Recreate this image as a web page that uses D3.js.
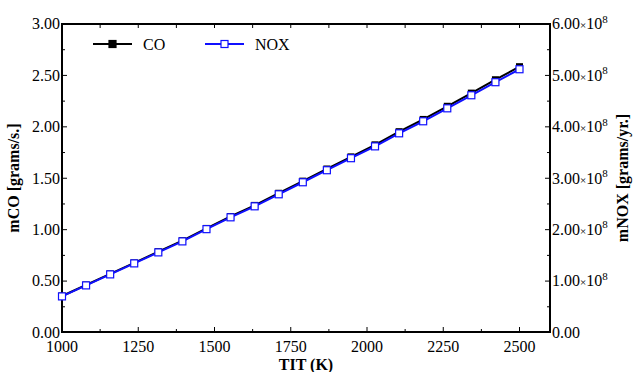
<!DOCTYPE html>
<html>
<head>
<meta charset="utf-8">
<script src="https://cdn.jsdelivr.net/npm/d3@7"></script>
<style>
  body { margin: 0; background: #fff; }
  svg text { font-family: "Liberation Serif", "Times New Roman", "DejaVu Serif", serif; }
</style>
</head>
<body>
<svg id="chart" width="638" height="372"></svg>
<script>
// TIT (K) sample points
const titK = [1000, 1078.9, 1157.9, 1236.8, 1315.8, 1394.7, 1473.7, 1552.6, 1631.6, 1710.5,
              1789.5, 1868.4, 1947.4, 2026.3, 2105.3, 2184.2, 2263.2, 2342.1, 2421.1, 2500];
// mCO [grams/s.]
const coValues = [0.355, 0.462, 0.570, 0.677, 0.786, 0.893, 1.012, 1.128, 1.236, 1.354,
                  1.472, 1.590, 1.708, 1.825, 1.953, 2.072, 2.200, 2.328, 2.458, 2.585];
// mNOX [grams/yr.]
const noxValues = [0.702e8, 0.916e8, 1.130e8, 1.344e8, 1.558e8, 1.772e8, 2.010e8, 2.240e8, 2.454e8, 2.688e8,
                   2.922e8, 3.156e8, 3.390e8, 3.620e8, 3.874e8, 4.108e8, 4.360e8, 4.614e8, 4.868e8, 5.120e8];

const xTicks = [1000, 1250, 1500, 1750, 2000, 2250, 2500];
const coTicks = [0, 0.5, 1, 1.5, 2, 2.5, 3];
const noxTicks = [0, 1e8, 2e8, 3e8, 4e8, 5e8, 6e8];

const svg = d3.select("#chart");
const margin = { left: 62, right: 88, top: 24, bottom: 40 };
const W = 638, H = 372;
const x0 = margin.left, x1 = W - margin.right;
const y0 = H - margin.bottom, y1 = margin.top;

const x = d3.scaleLinear().domain([1000, 2600]).range([x0, x1]);
const yCO = d3.scaleLinear().domain([0, 3]).range([y0 + 0.5, y1]);
const yNOX = d3.scaleLinear().domain([0, 6e8]).range([y0 + 0.5, y1]);

const fontSize = 16;

// minor ticks sit halfway between the majors
function minorOf(ticks, step) {
    return ticks.map(t => t + step / 2);
}

// tick marks (inward)
const tickG = svg.append("g").attr("stroke", "#000").attr("stroke-width", 1);
const xMinor = minorOf(xTicks, 250).filter(v => v < 2600);
xTicks.forEach(v => {
    tickG.append("line").attr("x1", x(v)).attr("x2", x(v)).attr("y1", y0).attr("y2", y0 - 5);
    tickG.append("line").attr("x1", x(v)).attr("x2", x(v)).attr("y1", y1).attr("y2", y1 + 4);
});
xMinor.forEach(v => {
    tickG.append("line").attr("x1", x(v)).attr("x2", x(v)).attr("y1", y0).attr("y2", y0 - 3);
    tickG.append("line").attr("x1", x(v)).attr("x2", x(v)).attr("y1", y1).attr("y2", y1 + 4);
});
coTicks.forEach(v => {
    tickG.append("line").attr("x1", x0).attr("x2", x0 + 5).attr("y1", yCO(v)).attr("y2", yCO(v));
});
minorOf(coTicks, 0.5).filter(v => v < 3).forEach(v => {
    tickG.append("line").attr("x1", x0).attr("x2", x0 + 3).attr("y1", yCO(v)).attr("y2", yCO(v));
});
noxTicks.forEach(v => {
    tickG.append("line").attr("x1", x1).attr("x2", x1 - 5).attr("y1", yNOX(v)).attr("y2", yNOX(v));
});
minorOf(noxTicks, 1e8).filter(v => v < 6e8).forEach(v => {
    tickG.append("line").attr("x1", x1).attr("x2", x1 - 3).attr("y1", yNOX(v)).attr("y2", yNOX(v));
});

// frame
svg.append("rect")
    .attr("x", x0).attr("y", y1)
    .attr("width", x1 - x0).attr("height", y0 - y1)
    .attr("fill", "none").attr("stroke", "#000")
    .attr("stroke-width", 2);

// tick labels
svg.append("g")
    .attr("font-size", fontSize)
    .attr("text-anchor", "middle")
    .selectAll("text")
    .data(xTicks)
    .join("text")
    .attr("x", d => x(d))
    .attr("y", y0 + 20)
    .text(d => d);

svg.append("g")
    .attr("font-size", fontSize)
    .attr("text-anchor", "end")
    .selectAll("text")
    .data(coTicks)
    .join("text")
    .attr("x", x0 - 2)
    .attr("y", d => yCO(d))
    .attr("dy", "0.33em")
    .text(d => d.toFixed(2));

const noxLabels = svg.append("g")
    .attr("font-size", fontSize)
    .selectAll("text")
    .data(noxTicks)
    .join("text")
    .attr("x", x1 + 2)
    .attr("y", d => yNOX(d))
    .attr("dy", "0.33em");
noxLabels.each(function(d) {
    const t = d3.select(this);
    if (d === 0) { t.text("0.00"); return; }
    t.append("tspan").text((d / 1e8).toFixed(2));
    t.append("tspan").attr("font-size", 11).text("×");
    t.append("tspan").text("10");
    t.append("tspan").attr("font-size", 11).attr("dy", "-0.6em").text("8");
});

// axis titles
svg.append("text")
    .attr("font-size", fontSize).attr("font-weight", "bold")
    .attr("text-anchor", "middle")
    .attr("x", (x0 + x1) / 2).attr("y", H - 2)
    .text("TIT (K)");

svg.append("text")
    .attr("font-size", fontSize).attr("font-weight", "bold")
    .attr("text-anchor", "middle")
    .attr("transform", `translate(19,${(y0 + y1) / 2}) rotate(-90)`)
    .text("mCO [grams/s.]");

svg.append("text")
    .attr("font-size", fontSize).attr("font-weight", "bold")
    .attr("text-anchor", "middle")
    .attr("transform", `translate(628,${(y0 + y1) / 2}) rotate(-90)`)
    .text("mNOX [grams/yr.]");

// series
const coData = titK.map((t, i) => [t, coValues[i]]);
const noxData = titK.map((t, i) => [t, noxValues[i]]);

const plot = svg.append("g");

plot.append("path")
    .datum(coData)
    .attr("fill", "none").attr("stroke", "#000").attr("stroke-width", 2)
    .attr("d", d3.line().x(d => x(d[0])).y(d => yCO(d[1])));
plot.append("g").selectAll("rect")
    .data(coData)
    .join("rect")
    .attr("x", d => x(d[0]) - 3.5).attr("y", d => yCO(d[1]) - 3.5)
    .attr("width", 7).attr("height", 7)
    .attr("fill", "#000");

plot.append("path")
    .datum(noxData)
    .attr("fill", "none").attr("stroke", "#1010ff").attr("stroke-width", 2)
    .attr("d", d3.line().x(d => x(d[0])).y(d => yNOX(d[1])));
plot.append("g").selectAll("rect")
    .data(noxData)
    .join("rect")
    .attr("x", d => x(d[0]) - 3.5).attr("y", d => yNOX(d[1]) - 3.5)
    .attr("width", 7).attr("height", 7)
    .attr("fill", "#fff").attr("stroke", "#1010ff").attr("stroke-width", 1.2);

// legend
const legend = svg.append("g").attr("font-size", fontSize);
const legendItems = [
    { name: "CO", x: 93, color: "#000", fill: "#000" },
    { name: "NOX", x: 205, color: "#1010ff", fill: "#fff" }
];
legendItems.forEach(item => {
    const g = legend.append("g").attr("transform", `translate(${item.x},44)`);
    g.append("line").attr("x1", 0).attr("x2", 39).attr("stroke", item.color).attr("stroke-width", 2);
    g.append("rect").attr("x", 16).attr("y", -3.5).attr("width", 7).attr("height", 7)
        .attr("fill", item.fill).attr("stroke", item.color).attr("stroke-width", 1.2);
    g.append("text").attr("x", 50).attr("dy", "0.35em").text(item.name);
});
</script>
</body>
</html>
